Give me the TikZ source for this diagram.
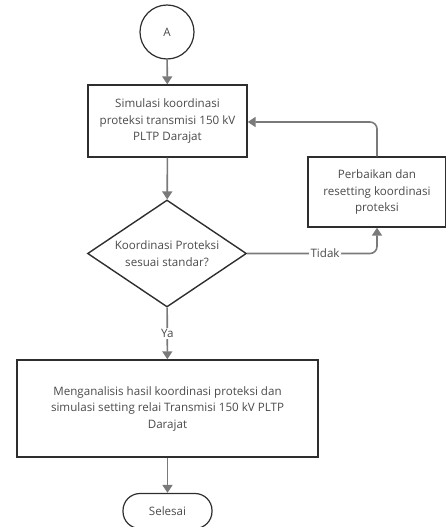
\documentclass[tikz,border=0pt]{standalone}
\usepackage{fontspec}
\setmainfont{Open Sans}
\usetikzlibrary{shapes.geometric,arrows.meta}
\definecolor{linegray}{HTML}{7A7A7A}
\definecolor{boxline}{HTML}{2E2E2E}
\definecolor{textgray}{HTML}{4A4A4A}
\begin{document}
\begin{tikzpicture}[
        x=1pt, y=1pt,
        every node/.style = {
            align=center,
            text=textgray,
            font=\fontsize{11.6}{16.5}\selectfont
        },
        proc/.style = {draw=boxline, line width=1.4pt, rectangle, inner sep=2pt},
        conn/.style = {draw=boxline, line width=1.2pt, circle, minimum size=54pt},
        decide/.style = {draw=boxline, line width=1.4pt, diamond, aspect=1.5, inner sep=0pt, minimum width=159pt, minimum height=107pt},
        term/.style = {draw=boxline, line width=1.2pt, rectangle, rounded corners=17pt, minimum width=89pt, minimum height=35pt},
        flow/.style = {draw=linegray, line width=1.6pt, -{Triangle[width=10pt,length=8pt]}},
        lbl/.style = {fill=white, inner sep=1.5pt}
    ]
    \useasboundingbox (0,0) rectangle (446,-527);

    % Nodes
    \node[conn] (A) at (167,-32) {A};
    \node[proc, minimum width=159pt, minimum height=72pt] (sim) at (167.5,-121) {Simulasi koordinasi\\proteksi transmisi 150 kV\\PLTP Darajat};
    \node[decide] (dec) at (167,-253.5) {Koordinasi Proteksi\\sesuai standar?};
    \node[proc, minimum width=138pt, minimum height=70pt] (fix) at (377,-192) {Perbaikan dan\\resetting koordinasi\\proteksi};
    \node[proc, minimum width=301pt, minimum height=97pt] (ana) at (167.5,-408.5) {Menganalisis hasil koordinasi proteksi dan\\simulasi setting relai Transmisi 150 kV PLTP\\Darajat};
    \node[term] (end) at (167.5,-511) {Selesai};

    % Alur utama
    \draw[flow] (A) -- (sim);
    \draw[flow] (sim) -- (dec);
    \draw[flow] (dec) -- node[lbl, pos=0.5] {Ya} (ana);
    \draw[flow] (ana) -- (end);

    % Cabang Tidak dan umpan balik
    \coordinate (turn) at (fix.south |- dec.east);
    \draw[flow, rounded corners=7pt] (dec.east) -- node[lbl, pos=0.6] {Tidak} (turn) -- (fix.south);
    \draw[flow, rounded corners=7pt] (fix.north) |- ([yshift=-1pt]sim.east);

\end{tikzpicture}
\end{document}
